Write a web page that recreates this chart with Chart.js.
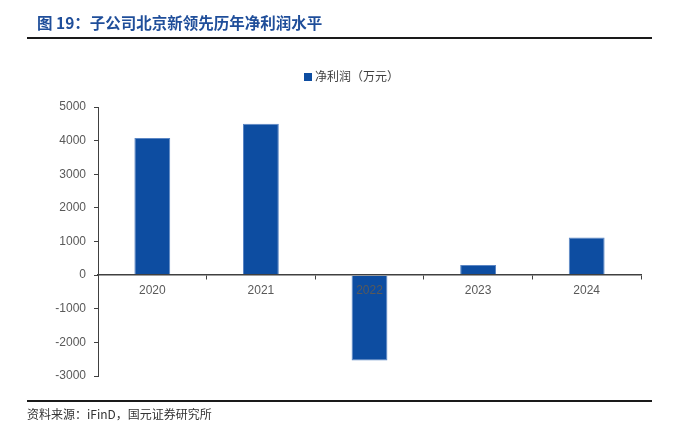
<!DOCTYPE html>
<html>
<head>
<meta charset="utf-8">
<script src="https://cdn.jsdelivr.net/npm/chart.js@4.4.1/dist/chart.umd.min.js"></script>
<style>
  html, body { margin: 0; padding: 0; background: #fff; }
  #wrap { position: relative; width: 683px; height: 429px; overflow: hidden; }
  #c { position: absolute; left: 0; top: 0; }
  .title { position: absolute; left: 37px; top: 12px; font-family: "Noto Sans CJK SC", sans-serif; font-weight: bold; font-size: 15.5px; color: #1F4E9A; white-space: nowrap; line-height: 20px; }
  .rule { position: absolute; left: 27px; width: 625px; height: 2px; background: #1a1a1a; }
  .legend { position: absolute; left: 304px; top: 67px; font-family: "Noto Sans CJK SC", sans-serif; font-size: 12px; color: #404040; white-space: nowrap; line-height: 18px; }
  .legend i { display: inline-block; width: 8px; height: 8px; background: #0D4DA1; margin-right: 3px; vertical-align: 0px; }
  .source { position: absolute; left: 27px; top: 406px; font-family: "Noto Sans CJK SC", sans-serif; font-size: 12px; color: #333; white-space: nowrap; line-height: 16px; }
</style>
</head>
<body>
<div id="wrap">
  <canvas id="c" width="683" height="429"></canvas>
  <div class="title">图 19：子公司北京新领先历年净利润水平</div>
  <div class="rule" style="top:37px"></div>
  <div class="legend"><i></i>净利润（万元）</div>
  <div class="rule" style="top:400px"></div>
  <div class="source">资料来源：iFinD，国元证券研究所</div>
</div>
<script>
const categories = ["2020", "2021", "2022", "2023", "2024"];
const netProfit = [4080, 4500, -2540, 300, 1120];
const seriesName = "净利润（万元）";
const yTicks = [-3000, -2000, -1000, 0, 1000, 2000, 3000, 4000, 5000];

const axisColor = "#404040";
const labelColor = "#595959";
const tickFont = { family: "'Liberation Sans', Arial, sans-serif", size: 12 };

new Chart(document.getElementById("c"), {
  type: "bar",
  data: {
    labels: categories,
    datasets: [{
      label: seriesName,
      data: netProfit,
      backgroundColor: "#0D4DA1",
      borderColor: "#5B86C4",
      borderWidth: 1,
      barPercentage: 0.33,
      categoryPercentage: 1.0
    }]
  },
  options: {
    responsive: false,
    animation: false,
    devicePixelRatio: 1,
    layout: { padding: { left: 0, right: 42, top: 107, bottom: 53 } },
    plugins: { legend: { display: false }, tooltip: { enabled: false } },
    scales: {
      y: {
        min: yTicks[0],
        max: yTicks[yTicks.length - 1],
        afterBuildTicks: (s) => { s.ticks = yTicks.map(v => ({ value: v })); },
        afterFit: (s) => { s.width = 98; },
        border: { display: true, color: axisColor, width: 1 },
        grid: { drawOnChartArea: false, drawTicks: true, tickLength: 4, color: axisColor },
        ticks: { color: labelColor, font: tickFont, padding: 8, callback: (v) => String(v) }
      },
      x: {
        position: { y: 0 },
        border: { display: true, color: axisColor, width: 1.5, z: 1 },
        grid: { drawOnChartArea: false, drawTicks: true, tickLength: 4, color: axisColor, offset: true, z: 1 },
        ticks: { color: labelColor, font: tickFont, padding: 4, maxRotation: 0, z: 1 }
      }
    }
  }
});
</script>
</body>
</html>
